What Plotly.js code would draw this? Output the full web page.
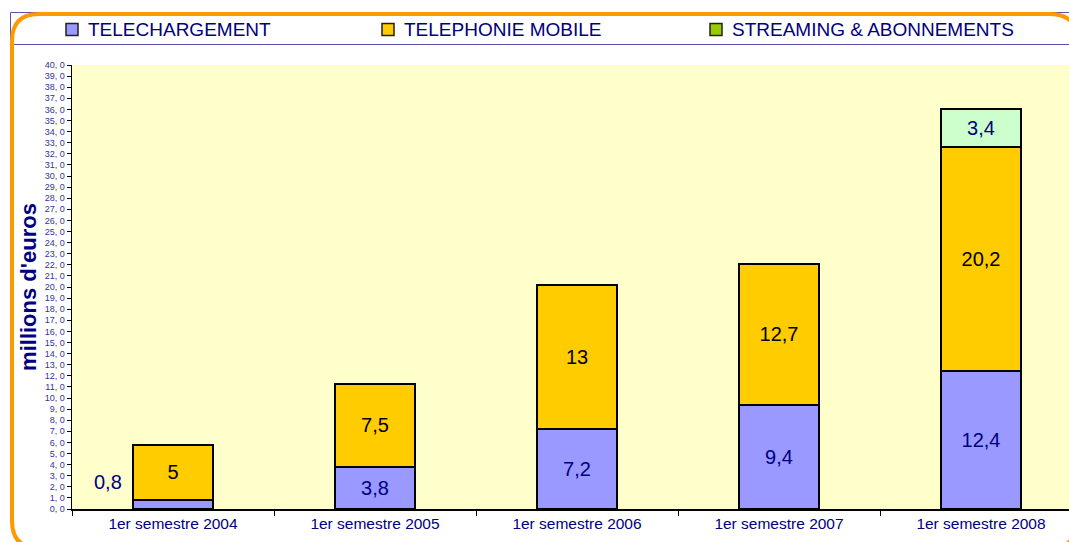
<!DOCTYPE html>
<html>
<head>
<meta charset="utf-8">
<script src="https://cdn.plot.ly/plotly-3.0.1.min.js"></script>
<style>
  html, body { margin: 0; padding: 0; background: #ffffff; overflow: hidden; }
  #chart { width: 1069px; height: 542px; }
</style>
</head>
<body>
<div id="chart"></div>
<script>
// ---- Data ----
const categories = ["1er semestre 2004", "1er semestre 2005", "1er semestre 2006", "1er semestre 2007", "1er semestre 2008"];
const seriesNames = ["TELECHARGEMENT", "TELEPHONIE MOBILE", "STREAMING & ABONNEMENTS"];
const telechargement = [0.8, 3.8, 7.2, 9.4, 12.4];
const telephonieMobile = [5, 7.5, 13, 12.7, 20.2];
const streaming = [null, null, null, null, 3.4];
const yTickValues = Array.from({length: 41}, (_, i) => i); // 0,0 ... 40,0

// ---- Styling ----
const colBlue = "#9999FF", colYellow = "#FFCC00", colGreen = "#CCFFCC", colGreenLegend = "#99CC00";
const navy = "#000080";
const fmt = v => (v === null ? "" : String(v).replace(".", ","));

// geometry helpers (pixel -> paper)
const L = 72, R = 1069, T = 65, B = 509;
const xp = px => (px - L) / (R - L);
const yp = py => (B - py) / (B - T);

const fontFam = "Liberation Sans, Arial, sans-serif";
const labelSize = 20;

// first blue label is placed outside the bar (as in the original)
const teleText = telechargement.map((v, i) => i === 0 ? "" : fmt(v));

const traces = [
  {
    type: "bar", name: seriesNames[0], x: categories, y: telechargement,
    marker: { color: colBlue, line: { color: "#000000", width: 2 } },
    text: teleText, textposition: "inside", insidetextanchor: "middle", textangle: 0,
    insidetextfont: { family: fontFam, size: labelSize, color: navy },
    width: 0.4, showlegend: false, hoverinfo: "y"
  },
  {
    type: "bar", name: seriesNames[1], x: categories, y: telephonieMobile,
    marker: { color: colYellow, line: { color: "#000000", width: 2 } },
    text: telephonieMobile.map(fmt), textposition: "inside", insidetextanchor: "middle", textangle: 0,
    insidetextfont: { family: fontFam, size: labelSize, color: "#000000" },
    width: 0.4, showlegend: false, hoverinfo: "y"
  },
  {
    type: "bar", name: seriesNames[2], x: categories, y: streaming,
    marker: { color: colGreen, line: { color: "#000000", width: 2 } },
    text: streaming.map(fmt), textposition: "inside", insidetextanchor: "middle", textangle: 0,
    insidetextfont: { family: fontFam, size: labelSize, color: navy },
    width: 0.4, showlegend: false, hoverinfo: "y"
  }
];

// legend drawn as shapes + annotations at the original positions
const legendSwatchX = [66, 382, 710];
const legendTextX = [86, 402, 730];
const legendSwatchCols = [colBlue, colYellow, colGreenLegend];

const shapes = [];
const annotations = [];

// legend box
shapes.push({
  type: "rect", xref: "paper", yref: "paper",
  x0: xp(10.5), x1: xp(1090), y0: yp(44.5), y1: yp(12.5),
  line: { color: "#5555AA", width: 1 }, fillcolor: "rgba(0,0,0,0)", layer: "above"
});

seriesNames.forEach((name, i) => {
  shapes.push({
    type: "rect", xref: "paper", yref: "paper",
    x0: xp(legendSwatchX[i]), x1: xp(legendSwatchX[i] + 12),
    y0: yp(35.5), y1: yp(23.5),
    fillcolor: legendSwatchCols[i], line: { color: "#222222", width: 1.5 }, layer: "above"
  });
  annotations.push({
    xref: "paper", yref: "paper", x: xp(legendTextX[i]), y: yp(29.5),
    xanchor: "left", yanchor: "middle", showarrow: false, text: name,
    font: { family: fontFam, size: 19, color: navy }
  });
});

// label for the small first blue segment, placed at its left as in the reference
annotations.push({
  xref: "x", yref: "y", x: -0.32, y: 2.45, showarrow: false,
  text: fmt(telechargement[0]), font: { family: fontFam, size: labelSize, color: navy }
});

// orange rounded frame
(function () {
  const l = 12, t = 14, r = 1077, b = 548, rad = 27;
  const X = xp, Y = yp;
  const path =
    `M ${X(l + rad)},${Y(t)} L ${X(r - rad)},${Y(t)} Q ${X(r)},${Y(t)} ${X(r)},${Y(t + rad)} ` +
    `L ${X(r)},${Y(b - rad)} Q ${X(r)},${Y(b)} ${X(r - rad)},${Y(b)} ` +
    `L ${X(l + rad)},${Y(b)} Q ${X(l)},${Y(b)} ${X(l)},${Y(b - rad)} ` +
    `L ${X(l)},${Y(t + rad)} Q ${X(l)},${Y(t)} ${X(l + rad)},${Y(t)} Z`;
  shapes.push({ type: "path", xref: "paper", yref: "paper", path: path,
    line: { color: "#FF9900", width: 4 }, fillcolor: "rgba(0,0,0,0)", layer: "above" });
})();

const layout = {
  width: 1069, height: 542,
  margin: { l: L, r: 0, t: T, b: 542 - B, pad: 0 },
  paper_bgcolor: "#ffffff",
  plot_bgcolor: "#FFFFCC",
  barmode: "stack",
  separators: ", ",
  showlegend: false,
  font: { family: fontFam, color: navy },
  xaxis: {
    type: "category",
    range: [-0.5, -0.5 + (R - L) / 202],
    tickson: "boundaries", ticks: "outside", ticklen: 5, tickcolor: "#000000", tickwidth: 1,
    showline: true, linecolor: "#000000", linewidth: 1.5,
    showgrid: false, zeroline: false,
    tickfont: { family: fontFam, size: 15.5, color: navy },
    automargin: false, fixedrange: true
  },
  yaxis: {
    range: [0, 40],
    tickvals: yTickValues,
    ticktext: yTickValues.map(v => v.toFixed(1).replace(".", ", ")),
    ticks: "outside", ticklen: 4, tickcolor: "#000000", tickwidth: 1,
    showline: true, linecolor: "#000000", linewidth: 1.5,
    showgrid: false, zeroline: false,
    tickfont: { family: fontFam, size: 9, color: "#333399" },
    title: { text: "<b>millions d'euros</b>", font: { family: fontFam, size: 22, color: navy }, standoff: 2 },
    automargin: false, fixedrange: true
  },
  shapes: shapes,
  annotations: annotations
};

Plotly.newPlot("chart", traces, layout, { displayModeBar: false, staticPlot: true });
</script>
</body>
</html>
